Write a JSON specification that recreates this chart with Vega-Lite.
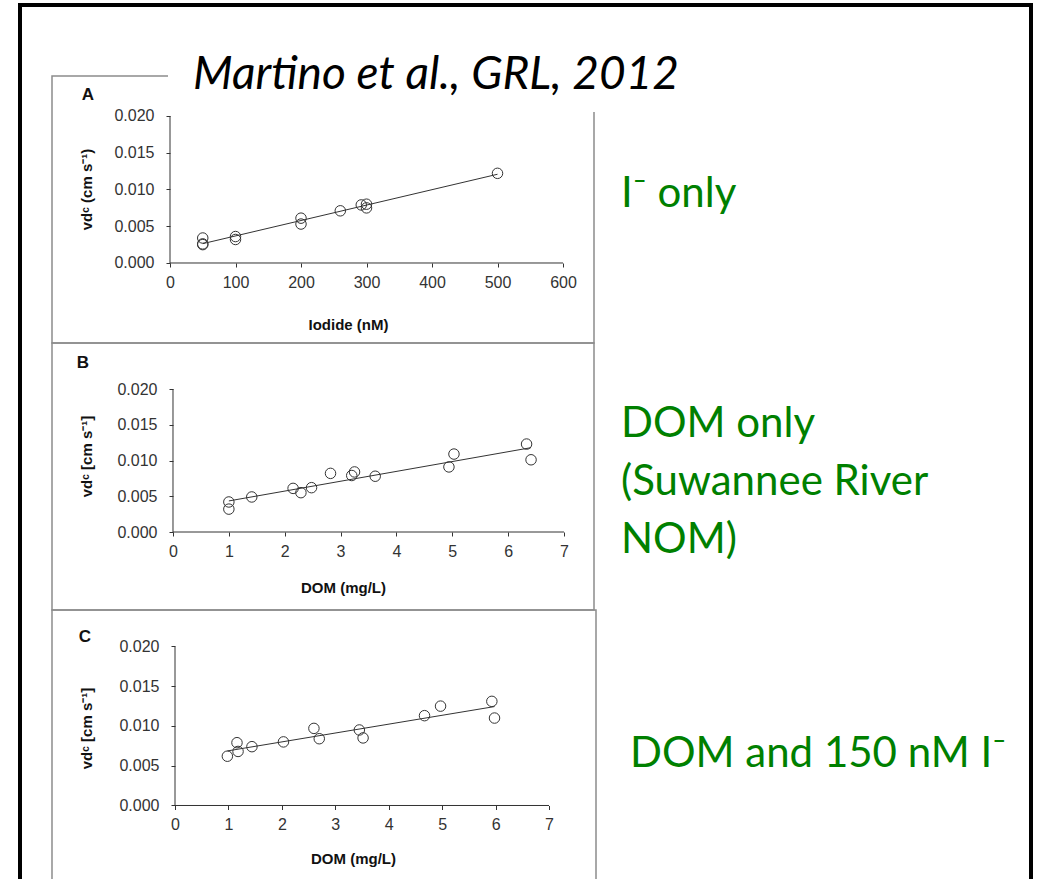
{
  "$schema": "https://vega.github.io/schema/vega-lite/v6.json",
  "width": 1011,
  "height": 874,
  "autosize": "none",
  "padding": {"left": 20, "top": 5, "right": 9, "bottom": 0},
  "background": "white",
  "config": {
    "font": "Liberation Sans",
    "view": {"stroke": "black", "strokeWidth": 4, "strokeDash": [1885, 1011, 874], "fill": "white"},
    "axis": {
      "domain": false, "grid": false,
      "tickSize": 4, "tickColor": "#333", "tickWidth": 1,
      "labelFont": "Liberation Sans", "labelFontSize": 16, "labelColor": "#333",
      "labelFlush": false, "labelOverlap": false,
      "titleFont": "Liberation Sans", "titleFontSize": 15, "titleFontWeight": "bold", "titleColor": "#111",
      "titleBaseline": "middle", "titleAlign": "center"
    },
    "axisX": {"labelPadding": 7},
    "axisY": {"labelPadding": 12}
  },
  "datasets": {
    "iodide": [
      {"conc": 50, "dv": 0.0034}, {"conc": 50, "dv": 0.0026}, {"conc": 50, "dv": 0.0025},
      {"conc": 100, "dv": 0.0036}, {"conc": 100, "dv": 0.0032},
      {"conc": 200, "dv": 0.0061}, {"conc": 200, "dv": 0.0053},
      {"conc": 260, "dv": 0.0071}, {"conc": 292, "dv": 0.0079},
      {"conc": 300, "dv": 0.0080}, {"conc": 300, "dv": 0.0075},
      {"conc": 500, "dv": 0.0122}
    ],
    "dom": [
      {"conc": 1.00, "dv": 0.0042}, {"conc": 1.00, "dv": 0.0032}, {"conc": 1.41, "dv": 0.0049},
      {"conc": 2.15, "dv": 0.0061}, {"conc": 2.29, "dv": 0.0055}, {"conc": 2.48, "dv": 0.0062},
      {"conc": 2.82, "dv": 0.0082}, {"conc": 3.20, "dv": 0.0079}, {"conc": 3.25, "dv": 0.0084},
      {"conc": 3.62, "dv": 0.0078}, {"conc": 4.94, "dv": 0.0091}, {"conc": 5.03, "dv": 0.0109},
      {"conc": 6.33, "dv": 0.0123}, {"conc": 6.41, "dv": 0.0101}
    ],
    "domIodide": [
      {"conc": 0.98, "dv": 0.0062}, {"conc": 1.16, "dv": 0.0079}, {"conc": 1.18, "dv": 0.0068},
      {"conc": 1.44, "dv": 0.0074}, {"conc": 2.03, "dv": 0.0080}, {"conc": 2.60, "dv": 0.0097},
      {"conc": 2.70, "dv": 0.0084}, {"conc": 3.45, "dv": 0.0095}, {"conc": 3.52, "dv": 0.0085},
      {"conc": 4.67, "dv": 0.0113}, {"conc": 4.97, "dv": 0.0125}, {"conc": 5.93, "dv": 0.0131},
      {"conc": 5.98, "dv": 0.0110}
    ],
    "one": [{}]
  },
  "layer": [
    {
      "description": "Panel A frame",
      "data": {"name": "one"},
      "mark": {"type": "rect", "filled": false, "stroke": "#8c8c8c", "strokeWidth": 1.5},
      "encoding": {
        "x": {"datum": -180.15, "scale": {"domain": [-229.008, 1314.5], "nice": false, "zero": false}, "axis": null},
        "x2": {"datum": 647.33},
        "y": {"datum": 0.025442, "scale": {"domain": [-0.0838095, 0.035102], "nice": false, "zero": false}, "axis": null},
        "y2": {"datum": -0.010884}
      }
    },
    {
      "description": "Panel B frame",
      "data": {"name": "one"},
      "mark": {"type": "rect", "filled": false, "stroke": "#8c8c8c", "strokeWidth": 1.5},
      "encoding": {
        "x": {"datum": -2.1662, "scale": {"domain": [-2.7391, 15.3607], "nice": false, "zero": false}, "axis": null},
        "x2": {"datum": 7.5372},
        "y": {"datum": 0.026434, "scale": {"domain": [-0.048531, 0.073706], "nice": false, "zero": false}, "axis": null},
        "y2": {"datum": -0.010909}
      }
    },
    {
      "description": "Panel C frame",
      "data": {"name": "one"},
      "mark": {"type": "rect", "filled": false, "stroke": "#8c8c8c", "strokeWidth": 1.5},
      "encoding": {
        "x": {"datum": -2.3021, "scale": {"domain": [-2.901, 16.021], "nice": false, "zero": false}, "axis": null},
        "x2": {"datum": 7.8795},
        "y": {"datum": 0.024591, "scale": {"domain": [-0.0092453, 0.1006918], "nice": false, "zero": false}, "axis": null},
        "y2": {"datum": -0.0105}
      }
    },
    {
      "description": "White box behind the citation",
      "data": {"name": "one"},
      "mark": {"type": "rect", "fill": "white", "stroke": null},
      "encoding": {
        "x": {"datum": -3.05, "scale": {"domain": [-229.008, 1314.5], "nice": false, "zero": false}, "axis": null},
        "x2": {"datum": 796.9},
        "y": {"datum": 0.03102, "scale": {"domain": [-0.0838095, 0.035102], "nice": false, "zero": false}, "axis": null},
        "y2": {"datum": 0.020544}
      }
    },
    {
      "description": "Panel A x axis line",
      "data": {"name": "one"},
      "mark": {"type": "rule", "color": "#333", "strokeWidth": 1},
      "encoding": {
        "x": {"datum": 0, "scale": {"domain": [-229.008, 1314.5], "nice": false, "zero": false}, "axis": null},
        "x2": {"datum": 600},
        "y": {"datum": 0, "scale": {"domain": [-0.0838095, 0.035102], "nice": false, "zero": false}, "axis": null}
      }
    },
    {
      "description": "Panel A y axis line",
      "data": {"name": "one"},
      "mark": {"type": "rule", "color": "#333", "strokeWidth": 1},
      "encoding": {
        "x": {"datum": 0, "scale": {"domain": [-229.008, 1314.5], "nice": false, "zero": false}, "axis": null},
        "y": {"datum": 0, "scale": {"domain": [-0.0838095, 0.035102], "nice": false, "zero": false}, "axis": null},
        "y2": {"datum": 0.02}
      }
    },
    {
      "description": "Panel B x axis line",
      "data": {"name": "one"},
      "mark": {"type": "rule", "color": "#333", "strokeWidth": 1},
      "encoding": {
        "x": {"datum": 0, "scale": {"domain": [-2.7391, 15.3607], "nice": false, "zero": false}, "axis": null},
        "x2": {"datum": 7},
        "y": {"datum": 0, "scale": {"domain": [-0.048531, 0.073706], "nice": false, "zero": false}, "axis": null}
      }
    },
    {
      "description": "Panel B y axis line",
      "data": {"name": "one"},
      "mark": {"type": "rule", "color": "#333", "strokeWidth": 1},
      "encoding": {
        "x": {"datum": 0, "scale": {"domain": [-2.7391, 15.3607], "nice": false, "zero": false}, "axis": null},
        "y": {"datum": 0, "scale": {"domain": [-0.048531, 0.073706], "nice": false, "zero": false}, "axis": null},
        "y2": {"datum": 0.02}
      }
    },
    {
      "description": "Panel C x axis line",
      "data": {"name": "one"},
      "mark": {"type": "rule", "color": "#333", "strokeWidth": 1},
      "encoding": {
        "x": {"datum": 0, "scale": {"domain": [-2.901, 16.021], "nice": false, "zero": false}, "axis": null},
        "x2": {"datum": 7},
        "y": {"datum": 0, "scale": {"domain": [-0.0092453, 0.1006918], "nice": false, "zero": false}, "axis": null}
      }
    },
    {
      "description": "Panel C y axis line",
      "data": {"name": "one"},
      "mark": {"type": "rule", "color": "#333", "strokeWidth": 1},
      "encoding": {
        "x": {"datum": 0, "scale": {"domain": [-2.901, 16.021], "nice": false, "zero": false}, "axis": null},
        "y": {"datum": 0, "scale": {"domain": [-0.0092453, 0.1006918], "nice": false, "zero": false}, "axis": null},
        "y2": {"datum": 0.02}
      }
    },
    {
      "description": "Panel A linear fit",
      "data": {"name": "iodide"},
      "transform": [{"regression": "dv", "on": "conc"}],
      "mark": {"type": "line", "color": "#333", "strokeWidth": 1},
      "encoding": {
        "x": {"field": "conc", "type": "quantitative", "scale": {"domain": [-229.008, 1314.5], "nice": false, "zero": false}, "axis": null},
        "y": {"field": "dv", "type": "quantitative", "scale": {"domain": [-0.0838095, 0.035102], "nice": false, "zero": false}, "axis": null}
      }
    },
    {
      "description": "Panel B linear fit",
      "data": {"name": "dom"},
      "transform": [{"regression": "dv", "on": "conc"}],
      "mark": {"type": "line", "color": "#333", "strokeWidth": 1},
      "encoding": {
        "x": {"field": "conc", "type": "quantitative", "scale": {"domain": [-2.7391, 15.3607], "nice": false, "zero": false}, "axis": null},
        "y": {"field": "dv", "type": "quantitative", "scale": {"domain": [-0.048531, 0.073706], "nice": false, "zero": false}, "axis": null}
      }
    },
    {
      "description": "Panel C linear fit",
      "data": {"name": "domIodide"},
      "transform": [{"regression": "dv", "on": "conc"}],
      "mark": {"type": "line", "color": "#333", "strokeWidth": 1},
      "encoding": {
        "x": {"field": "conc", "type": "quantitative", "scale": {"domain": [-2.901, 16.021], "nice": false, "zero": false}, "axis": null},
        "y": {"field": "dv", "type": "quantitative", "scale": {"domain": [-0.0092453, 0.1006918], "nice": false, "zero": false}, "axis": null}
      }
    },
    {
      "description": "Panel A: deposition velocity vs iodide",
      "data": {"name": "iodide"},
      "mark": {"type": "point", "shape": "circle", "filled": false, "stroke": "#333", "strokeWidth": 1, "size": 110, "opacity": 1},
      "encoding": {
        "x": {
          "field": "conc", "type": "quantitative",
          "scale": {"domain": [-229.008, 1314.5], "nice": false, "zero": false},
          "axis": {"orient": "bottom", "offset": -616, "values": [0, 100, 200, 300, 400, 500, 600], "format": "d",
                   "title": "Iodide (nM)", "titleX": 328, "titleY": 61}
        },
        "y": {
          "field": "dv", "type": "quantitative",
          "scale": {"domain": [-0.0838095, 0.035102], "nice": false, "zero": false},
          "axis": {"orient": "left", "offset": -150, "values": [0, 0.005, 0.01, 0.015, 0.02], "format": ".3f",
                   "title": "vdᶜ (cm s⁻¹)", "titleX": -84, "titleY": 184, "titleAngle": -90}
        }
      }
    },
    {
      "description": "Panel B: deposition velocity vs DOM",
      "data": {"name": "dom"},
      "mark": {"type": "point", "shape": "circle", "filled": false, "stroke": "#333", "strokeWidth": 1, "size": 110, "opacity": 1},
      "encoding": {
        "x": {
          "field": "conc", "type": "quantitative",
          "scale": {"domain": [-2.7391, 15.3607], "nice": false, "zero": false},
          "axis": {"orient": "bottom", "offset": -347, "values": [0, 1, 2, 3, 4, 5, 6, 7], "format": "d",
                   "title": "DOM  (mg/L)", "titleX": 323, "titleY": 55}
        },
        "y": {
          "field": "dv", "type": "quantitative",
          "scale": {"domain": [-0.048531, 0.073706], "nice": false, "zero": false},
          "axis": {"orient": "left", "offset": -153, "values": [0, 0.005, 0.01, 0.015, 0.02], "format": ".3f",
                   "title": "vdᶜ [cm s⁻¹]", "titleX": -87, "titleY": 451, "titleAngle": -90}
        }
      }
    },
    {
      "description": "Panel C: deposition velocity vs DOM with 150 nM iodide",
      "data": {"name": "domIodide"},
      "mark": {"type": "point", "shape": "circle", "filled": false, "stroke": "#333", "strokeWidth": 1, "size": 110, "opacity": 1},
      "encoding": {
        "x": {
          "field": "conc", "type": "quantitative",
          "scale": {"domain": [-2.901, 16.021], "nice": false, "zero": false},
          "axis": {"orient": "bottom", "offset": -73.5, "values": [0, 1, 2, 3, 4, 5, 6, 7], "format": "d",
                   "title": "DOM (mg/L)", "titleX": 333, "titleY": 52.5}
        },
        "y": {
          "field": "dv", "type": "quantitative",
          "scale": {"domain": [-0.0092453, 0.1006918], "nice": false, "zero": false},
          "axis": {"orient": "left", "offset": -155, "values": [0, 0.005, 0.01, 0.015, 0.02], "format": ".3f",
                   "title": "vdᶜ [cm s⁻¹]", "titleX": -89, "titleY": 723, "titleAngle": -90}
        }
      }
    },
    {
      "description": "Panel A letter",
      "data": {"values": [{"label": "A"}]},
      "mark": {"type": "text", "font": "Liberation Sans", "fontWeight": "bold", "fontSize": 17, "color": "#111", "baseline": "middle", "align": "center"},
      "encoding": {
        "x": {"datum": -125.19, "scale": {"domain": [-229.008, 1314.5], "nice": false, "zero": false}, "axis": null},
        "y": {"datum": 0.022857, "scale": {"domain": [-0.0838095, 0.035102], "nice": false, "zero": false}, "axis": null},
        "text": {"field": "label"}
      }
    },
    {
      "description": "Citation",
      "data": {"values": [{"label": "Martino et al., GRL, 2012"}]},
      "mark": {"type": "text", "font": "Lato", "fontStyle": "italic", "fontSize": 46, "color": "black", "baseline": "alphabetic", "align": "left"},
      "encoding": {
        "x": {"datum": 35.11, "scale": {"domain": [-229.008, 1314.5], "nice": false, "zero": false}, "axis": null},
        "y": {"datum": 0.023673, "scale": {"domain": [-0.0838095, 0.035102], "nice": false, "zero": false}, "axis": null},
        "text": {"field": "label"}
      }
    },
    {
      "data": {"values": [{"label": "I⁻ only"}]},
      "mark": {"type": "text", "font": "Lato", "fontSize": 42, "color": "#008000", "baseline": "alphabetic", "align": "left"},
      "encoding": {
        "x": {"datum": 688.55, "scale": {"domain": [-229.008, 1314.5], "nice": false, "zero": false}, "axis": null},
        "y": {"datum": 0.007619, "scale": {"domain": [-0.0838095, 0.035102], "nice": false, "zero": false}, "axis": null},
        "text": {"field": "label"}
      }
    },
    {
      "description": "Panel B letter",
      "data": {"values": [{"label": "B"}]},
      "mark": {"type": "text", "font": "Liberation Sans", "fontWeight": "bold", "fontSize": 17, "color": "#111", "baseline": "middle", "align": "center"},
      "encoding": {
        "x": {"datum": -1.6113, "scale": {"domain": [-2.7391, 15.3607], "nice": false, "zero": false}, "axis": null},
        "y": {"datum": 0.023636, "scale": {"domain": [-0.048531, 0.073706], "nice": false, "zero": false}, "axis": null},
        "text": {"field": "label"}
      }
    },
    {
      "data": {"values": [{"label": "DOM only\n(Suwannee River\nNOM)"}]},
      "mark": {"type": "text", "font": "Lato", "fontSize": 42, "color": "#008000", "baseline": "alphabetic", "align": "left", "lineBreak": "\n", "lineHeight": 58},
      "encoding": {
        "x": {"datum": 8.0205, "scale": {"domain": [-2.7391, 15.3607], "nice": false, "zero": false}, "axis": null},
        "y": {"datum": 0.013287, "scale": {"domain": [-0.048531, 0.073706], "nice": false, "zero": false}, "axis": null},
        "text": {"field": "label"}
      }
    },
    {
      "description": "Panel C letter",
      "data": {"values": [{"label": "C"}]},
      "mark": {"type": "text", "font": "Liberation Sans", "fontWeight": "bold", "fontSize": 17, "color": "#111", "baseline": "middle", "align": "center"},
      "encoding": {
        "x": {"datum": -1.6845, "scale": {"domain": [-2.901, 16.021], "nice": false, "zero": false}, "axis": null},
        "y": {"datum": 0.021195, "scale": {"domain": [-0.0092453, 0.1006918], "nice": false, "zero": false}, "axis": null},
        "text": {"field": "label"}
      }
    },
    {
      "data": {"values": [{"label": "DOM and 150 nM I⁻"}]},
      "mark": {"type": "text", "font": "Lato", "fontSize": 42, "color": "#008000", "baseline": "alphabetic", "align": "left"},
      "encoding": {
        "x": {"datum": 8.5158, "scale": {"domain": [-2.901, 16.021], "nice": false, "zero": false}, "axis": null},
        "y": {"datum": 0.0048428, "scale": {"domain": [-0.0092453, 0.1006918], "nice": false, "zero": false}, "axis": null},
        "text": {"field": "label"}
      }
    }
  ],
  "resolve": {
    "scale": {"x": "independent", "y": "independent"},
    "axis": {"x": "independent", "y": "independent"}
  }
}
